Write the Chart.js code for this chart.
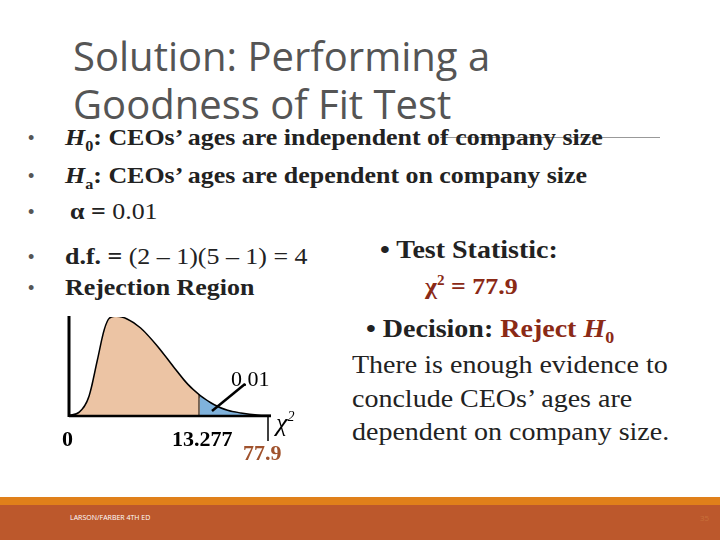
<!DOCTYPE html>
<html>
<head>
<meta charset="utf-8">
<script src="https://cdn.jsdelivr.net/npm/chart.js@4"></script>
<style>
  body { margin: 0; width: 720px; height: 540px; position: relative; background: #fff; overflow: hidden; }
  .t { position: absolute; white-space: nowrap; transform-origin: left top; }
  .title { left: 73px; top: 32px; font-family: "Open Sans", sans-serif; font-size: 40px; line-height: 48px; color: #555; }
  .b { font-family: "Liberation Serif", serif; font-weight: bold; font-size: 24px; color: #222; transform: scaleX(1.08); }
  .dot { position: absolute; left: 28px; font-family: "Liberation Sans"; font-size: 18px; color: #555; }
  .red { color: #8b2a16; }
  .reg { font-family: "Liberation Serif", serif; font-size: 25px; color: #222; line-height: 33.5px; transform: scaleX(1.12); }
  .lbl { font-family: "Liberation Serif", serif; font-size: 22px; font-weight: bold; }
  #wrap { position: absolute; left: 69px; top: 317px; width: 202px; height: 99px; }
</style>
</head>
<body>
<div class="t title">Solution: Performing a<br>Goodness of Fit Test</div>
<div style="position:absolute;left:440px;top:137px;width:220px;height:1px;background:#999"></div>

<div class="dot" style="top:128px">•</div><div class="t b" style="left:65px;top:124px"><i>H</i><sub style="font-size:15px">0</sub>: CEOs’ ages are independent of company size</div>
<div class="dot" style="top:166px">•</div><div class="t b" style="left:65px;top:162px"><i>H</i><sub style="font-size:15px">a</sub>: CEOs’ ages are dependent on company size</div>
<div class="dot" style="top:202px">•</div><div class="t b" style="left:70px;top:198px">α = <span style="font-weight:normal">0.01</span></div>
<div class="dot" style="top:247px">•</div><div class="t b" style="left:65px;top:243px">d.f. = <span style="font-weight:normal">(2 – 1)(5 – 1) = 4</span></div>
<div class="dot" style="top:278px">•</div><div class="t b" style="left:65px;top:274px">Rejection Region</div>

<div class="t b" style="left:380px;top:236px;font-size:25px;transform:scaleX(1.12)">• Test Statistic:</div>
<div class="t b red" style="left:425px;top:273px">χ<sup style="font-size:14px">2</sup> = 77.9</div>
<div class="t b" style="left:366px;top:315px;font-size:25px;transform:scaleX(1.12)">• Decision: <span class="red">Reject <i>H</i><sub style="font-size:16px">0</sub></span></div>
<div class="t reg" style="left:352px;top:348px">There is enough evidence to<br>conclude CEOs’ ages are<br>dependent on company size.</div>

<div id="wrap"><canvas id="grafico"></canvas></div>
<svg style="position:absolute;left:0;top:0" width="720" height="540">
  <line x1="69" y1="316" x2="69" y2="417" stroke="#000" stroke-width="3"/>
  <line x1="69" y1="416" x2="271" y2="416" stroke="#000" stroke-width="2.5"/>
  <line x1="268" y1="416" x2="268" y2="441" stroke="#000" stroke-width="1.5"/>
  <line x1="199" y1="394" x2="199" y2="416" stroke="#000" stroke-width="1"/>
  <line x1="245" y1="384" x2="212" y2="411" stroke="#000" stroke-width="2.5"/>
</svg>
<div class="t lbl" style="left:231px;top:366px;font-weight:normal">0.01</div>
<div class="t lbl" style="left:62px;top:426px">0</div>
<div class="t lbl" style="left:172px;top:426px">13.277</div>
<div class="t lbl red" style="left:243px;top:440px;color:#a0522d">77.9</div>
<div class="t" style="left:276px;top:408px;font-family:'Liberation Serif';font-style:italic;font-size:26px">χ<sup style="font-size:14px">2</sup></div>

<div style="position:absolute;left:0;top:497px;width:720px;height:8px;background:#e0801a"></div>
<div style="position:absolute;left:0;top:505px;width:720px;height:35px;background:#bc582c"></div>
<div class="t" style="left:70px;top:513px;font-family:'Open Sans';font-size:7px;color:#fff">LARSON/FARBER 4TH ED</div>
<div class="t" style="left:700px;top:512px;font-family:'Open Sans';font-size:8px;color:#c8703a">35</div>

<script>
// Curva (x en unidades chi-cuadrado, y altura relativa)
const curvaX = [0, 1.09, 2.11, 2.96, 3.64, 4.15, 4.83, 5.86, 7.22, 8.92, 10.62, 11.99, 13.277, 14.71, 16.07, 17.43, 19.14, 20.5];
const curvaY = [0, 0.010, 0.060, 0.170, 0.260, 0.295, 0.300, 0.292, 0.265, 0.210, 0.145, 0.095, 0.060, 0.032, 0.015, 0.007, 0.001, 0];
const valorCritico = 13.277;

const puntos = curvaX.map((x, i) => ({ x: x, y: curvaY[i] }));
const zonaAceptacion = puntos.filter(p => p.x <= valorCritico);
const zonaRechazo = puntos.filter(p => p.x >= valorCritico);

new Chart(document.getElementById("grafico"), {
    type: 'line',
    data: {
        datasets: [
            { data: zonaAceptacion, fill: 'origin', backgroundColor: '#ecc4a4', borderWidth: 0, pointRadius: 0, cubicInterpolationMode: 'monotone' },
            { data: zonaRechazo, fill: 'origin', backgroundColor: '#7fb2dc', borderWidth: 0, pointRadius: 0, cubicInterpolationMode: 'monotone' },
            { data: puntos, fill: false, borderColor: '#000', borderWidth: 3, pointRadius: 0, cubicInterpolationMode: 'monotone', clip: false }
        ]
    },
    options: {
        responsive: true,
        maintainAspectRatio: false,
        animation: false,
        layout: { padding: 0 },
        plugins: { legend: { display: false }, tooltip: { enabled: false } },
        scales: {
            x: { type: 'linear', min: 0, max: 20.5, display: false },
            y: { min: 0, max: 0.3, display: false }
        }
    }
});
</script>
</body>
</html>
